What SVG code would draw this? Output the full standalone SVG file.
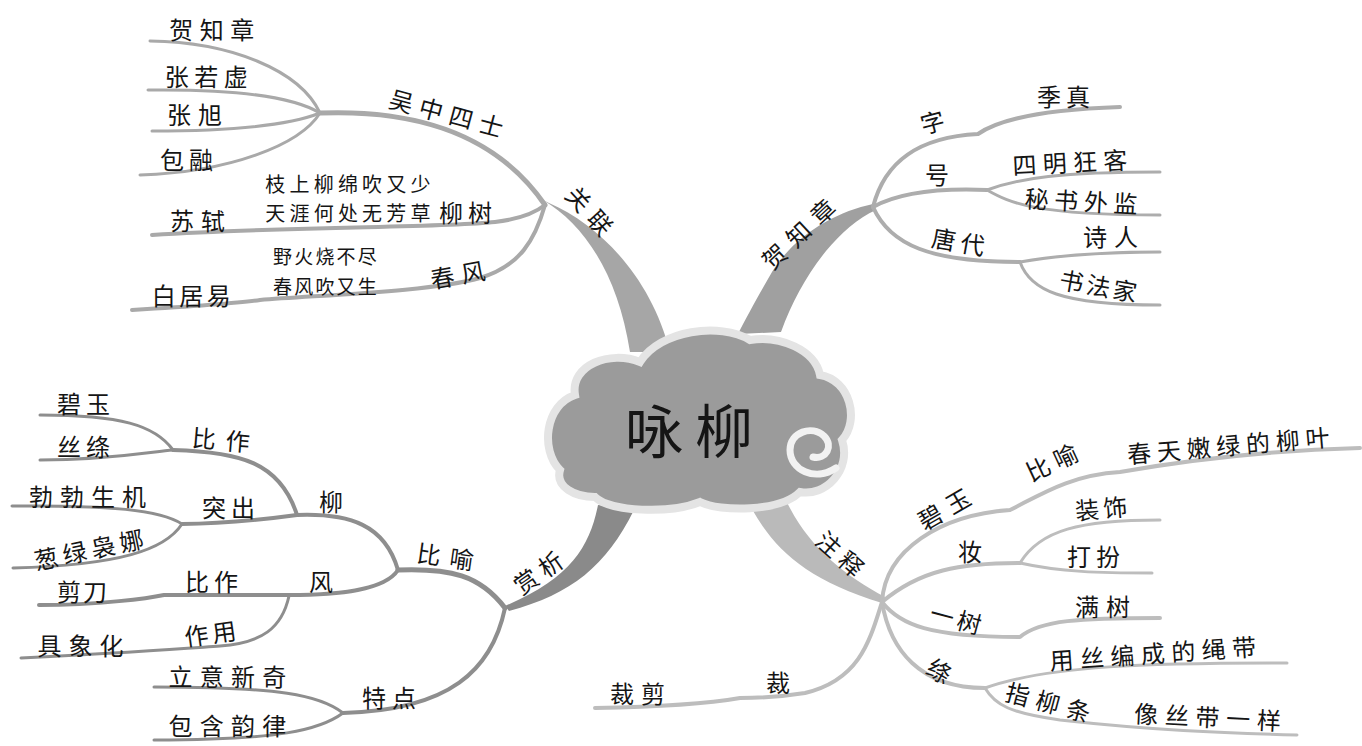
<svg xmlns="http://www.w3.org/2000/svg" width="1362" height="746" viewBox="0 0 1362 746">
<style>
.t{font-family:"Noto Sans CJK SC","Noto Sans CJK JP",sans-serif;fill:#151515;text-anchor:middle;dominant-baseline:central;font-size:24px}
.s20{font-size:20px}
.s19{font-size:19px}
.ln{fill:none;stroke-linecap:round;stroke-linejoin:round}
.a{stroke:#a9a9a9}
.b{stroke:#adadad}
.c{stroke:#8e8e8e}
.d{stroke:#bdbdbd}
.w5{stroke-width:5}
.w4{stroke-width:4}
.w3{stroke-width:3}
</style>
<rect width="1362" height="746" fill="#ffffff"/>
<g id="connectors">
  <!-- trunks -->
  <path d="M543,200 C585,225 618,275 630,352 L670,352 C652,280 602,226 549,203 Z" fill="#a6a6a6"/>
  <path d="M873,204 C835,212 795,235 772,272 C757,298 746,318 738,334 L781,332 C792,302 806,276 826,251 C841,233 858,218 876,210 Z" fill="#a0a0a0"/>
  <path d="M598,505 C590,545 572,578 505,606 L509,611 C572,594 606,566 634,510 Z" fill="#8a8a8a"/>
  <path d="M746,498 C770,545 800,578 882,603 L885,597 C842,574 806,545 784,496 Z" fill="#bababa"/>
  <!-- 关联 branches -->
  <path class="ln a w5" d="M545,205 C490,125 400,110 320,113"/>
  <path class="ln a w3" d="M320,113 C300,70 230,42 150,41"/>
  <path class="ln a w3" d="M320,113 C290,95 230,89 148,90"/>
  <path class="ln a w3" d="M320,113 C290,125 230,131 152,131"/>
  <path class="ln a w3" d="M320,113 C300,145 230,172 140,175"/>
  <path class="ln a w4" d="M545,205 C535,213 520,219 495,222 C440,228 300,226 152,235"/>
  <path class="ln a w4" d="M545,205 C535,240 520,266 480,278 C430,292 320,295 260,300 C240,303 200,306 132,310"/>
  <!-- 贺知章 branches -->
  <path class="ln b w4" d="M873,207 C885,160 920,137 978,134 C995,122 1030,110 1120,107"/>
  <path class="ln b w4" d="M873,207 C900,192 940,188 987,190"/>
  <path class="ln b w3" d="M987,190 C1020,178 1060,172 1160,172"/>
  <path class="ln b w3" d="M987,190 C1010,203 1035,215 1160,215"/>
  <path class="ln b w4" d="M873,207 C890,245 930,262 1020,262"/>
  <path class="ln b w3" d="M1020,262 C1060,255 1100,252 1160,252"/>
  <path class="ln b w3" d="M1020,262 C1030,290 1060,305 1160,305"/>
  <!-- 赏析 branches -->
  <path class="ln c w5" d="M505,608 C480,575 450,568 398,570"/>
  <path class="ln c w4" d="M398,570 C385,525 350,513 297,515"/>
  <path class="ln c w4" d="M398,570 C385,590 340,595 289,595 L164,595 C150,598 100,605 39,605"/>
  <path class="ln c w4" d="M297,515 C280,462 240,452 173,450"/>
  <path class="ln c w4" d="M297,515 C260,520 220,524 182,524"/>
  <path class="ln c w3" d="M173,450 C155,425 120,415 40,415"/>
  <path class="ln c w3" d="M173,450 C150,452 110,460 40,460"/>
  <path class="ln c w3" d="M182,524 C160,510 110,505 12,506"/>
  <path class="ln c w3" d="M182,524 C165,550 120,565 13,568"/>
  <path class="ln c w3" d="M289,596 C282,628 262,643 220,646 C190,648 170,650 21,658"/>
  <path class="ln c w4" d="M505,608 C492,670 450,710 343,713"/>
  <path class="ln c w3" d="M343,713 C320,695 280,687 154,687"/>
  <path class="ln c w3" d="M343,713 C320,730 280,740 154,740"/>
  <!-- 注释 branches -->
  <path class="ln d w4" d="M882,602 C885,550 940,515 1010,510 C1040,495 1070,475 1120,472 C1200,458 1280,450 1360,448"/>
  <path class="ln d w4" d="M882,602 C920,570 960,563 1020,563"/>
  <path class="ln d w3" d="M1020,563 C1040,530 1080,520 1160,520"/>
  <path class="ln d w3" d="M1020,563 C1060,572 1100,573 1152,573"/>
  <path class="ln d w4" d="M882,602 C900,625 930,637 1020,637 C1040,620 1080,618 1160,618"/>
  <path class="ln d w4" d="M882,602 C890,650 920,688 985,688"/>
  <path class="ln d w3" d="M985,688 C1050,665 1150,663 1287,663"/>
  <path class="ln d w3" d="M985,688 C995,705 1010,713 1060,720 C1150,730 1220,733 1297,735"/>
  <path class="ln d w4" d="M882,602 C870,640 860,680 805,693 C780,697 750,698 740,698 C700,705 650,707 595,708"/>
</g>
<g id="center">
  <path d="M560,470 C540,450 545,405 575,395 C570,365 610,350 640,362 C660,330 720,322 750,340 C780,335 815,350 820,375 C850,380 860,420 842,440 C852,470 825,497 800,492 C780,512 720,512 700,502 C670,514 610,512 595,497 C575,497 555,487 560,470 Z" fill="#9b9b9b" stroke="#e4e4e4" stroke-width="8"/>
  <path d="M836,468 C815,482 790,470 790,450 C790,432 812,425 824,436 C834,446 826,460 813,457" fill="none" stroke="#f2f2f2" stroke-width="7" stroke-linecap="round"/>
  <text class="t" x="695" y="428" font-size="58" letter-spacing="12" style="font-size:58px">咏柳</text>
</g>
<g id="n-guanlian"><text class="t" transform="translate(593,213) rotate(48)" letter-spacing="8">关联</text></g>
<g id="n-wuzhong"><text class="t" transform="translate(450,113) rotate(15)" letter-spacing="7">吴中四士</text></g>
<g id="n-hzz1"><text class="t" x="215" y="28" letter-spacing="6.5">贺知章</text></g>
<g id="n-zrx"><text class="t" x="209" y="75" letter-spacing="5.5">张若虚</text></g>
<g id="n-zx"><text class="t" x="198" y="113" letter-spacing="7">张旭</text></g>
<g id="n-br"><text class="t" x="189" y="158" letter-spacing="5">包融</text></g>
<g id="n-ss"><text class="t" x="201" y="219" letter-spacing="7">苏轼</text></g>
<g id="n-poem1"><text class="t s20" x="350" y="183" letter-spacing="4.2">枝上柳绵吹又少</text><text class="t s20" x="350" y="212" letter-spacing="4.2">天涯何处无芳草</text></g>
<g id="n-lshu"><text class="t" x="468" y="211" letter-spacing="5">柳树</text></g>
<g id="n-poem2"><text class="t s19" x="326" y="255" letter-spacing="2.2">野火烧不尽</text><text class="t s19" x="326" y="285" letter-spacing="2.2">春风吹又生</text></g>
<g id="n-cf"><text class="t" transform="translate(461,273) rotate(-10)" letter-spacing="7">春风</text></g>
<g id="n-bjy"><text class="t" x="193" y="294" letter-spacing="3.5">白居易</text></g>
<g id="n-hzz"><text class="t" transform="translate(801,230) rotate(-43)" letter-spacing="9">贺知章</text></g>
<g id="n-zi"><text class="t" transform="translate(932,121) rotate(-15)">字</text></g>
<g id="n-jz"><text class="t" x="1066" y="95" letter-spacing="5">季真</text></g>
<g id="n-hao"><text class="t" x="937" y="173">号</text></g>
<g id="n-smkk"><text class="t" transform="translate(1073,161) rotate(-3)" letter-spacing="6.3">四明狂客</text></g>
<g id="n-msjw"><text class="t" transform="translate(1084,200) rotate(3)" letter-spacing="5.7">秘书外监</text></g>
<g id="n-td"><text class="t" transform="translate(961,241) rotate(10)" letter-spacing="5">唐代</text></g>
<g id="n-sr"><text class="t" x="1114" y="235" letter-spacing="7">诗人</text></g>
<g id="n-sfj"><text class="t" transform="translate(1100,285) rotate(10)" letter-spacing="3">书法家</text></g>
<g id="n-shangxi"><text class="t" transform="translate(540,570) rotate(-35)" letter-spacing="6">赏析</text></g>
<g id="n-by1"><text class="t" transform="translate(450,556) rotate(8)" letter-spacing="9">比喻</text></g>
<g id="n-liu"><text class="t" x="331" y="500">柳</text></g>
<g id="n-bz1"><text class="t" transform="translate(226,439) rotate(5)" letter-spacing="10">比作</text></g>
<g id="n-by"><text class="t" x="86" y="402" letter-spacing="5">碧玉</text></g>
<g id="n-st"><text class="t" x="86" y="445" letter-spacing="5">丝绦</text></g>
<g id="n-tc"><text class="t" x="231" y="506" letter-spacing="5">突出</text></g>
<g id="n-bbsj"><text class="t" x="91" y="495" letter-spacing="7">勃勃生机</text></g>
<g id="n-cllnn"><text class="t" transform="translate(91,548) rotate(-12)" letter-spacing="5">葱绿袅娜</text></g>
<g id="n-feng"><text class="t" x="321" y="580">风</text></g>
<g id="n-bz2"><text class="t" x="214" y="580" letter-spacing="5">比作</text></g>
<g id="n-jd"><text class="t" x="83" y="590" letter-spacing="2">剪刀</text></g>
<g id="n-zy"><text class="t" transform="translate(212,632) rotate(-8)" letter-spacing="4">作用</text></g>
<g id="n-jxh"><text class="t" x="84" y="644" letter-spacing="7">具象化</text></g>
<g id="n-td2"><text class="t" x="392" y="696" letter-spacing="6">特点</text></g>
<g id="n-yyxq"><text class="t" x="231" y="675" letter-spacing="7.3">立意新奇</text></g>
<g id="n-bhyl"><text class="t" x="231" y="724" letter-spacing="7.3">包含韵律</text></g>
<g id="n-zhushi"><text class="t" transform="translate(843,555) rotate(42)" letter-spacing="6">注释</text></g>
<g id="n-byr"><text class="t" transform="translate(947,506) rotate(-30)" letter-spacing="8">碧玉</text></g>
<g id="n-byy"><text class="t" transform="translate(1054,460) rotate(-25)" letter-spacing="6">比喻</text></g>
<g id="n-ctnl"><text class="t" transform="translate(1231,444) rotate(-5)" letter-spacing="5.8">春天嫩绿的柳叶</text></g>
<g id="n-zhuang"><text class="t" x="970" y="550">妆</text></g>
<g id="n-zs"><text class="t" transform="translate(1103,507) rotate(-5)" letter-spacing="4">装饰</text></g>
<g id="n-db"><text class="t" x="1096" y="555" letter-spacing="5">打扮</text></g>
<g id="n-ys"><text class="t" transform="translate(958,618) rotate(15)" letter-spacing="4">一树</text></g>
<g id="n-ms"><text class="t" x="1106" y="605" letter-spacing="7">满树</text></g>
<g id="n-tao"><text class="t" transform="translate(940,670) rotate(30)">绦</text></g>
<g id="n-ysbc"><text class="t" transform="translate(1156,652) rotate(-4)" letter-spacing="6.5">用丝编成的绳带</text></g>
<g id="n-zlt"><text class="t" transform="translate(1052,702) rotate(15)" letter-spacing="7.5">指柳条</text></g>
<g id="n-xsdyy"><text class="t" transform="translate(1211,716) rotate(3)" letter-spacing="6.7">像丝带一样</text></g>
<g id="n-cai"><text class="t" x="778" y="681">裁</text></g>
<g id="n-cj"><text class="t" x="641" y="692" letter-spacing="7">裁剪</text></g>
</svg>
